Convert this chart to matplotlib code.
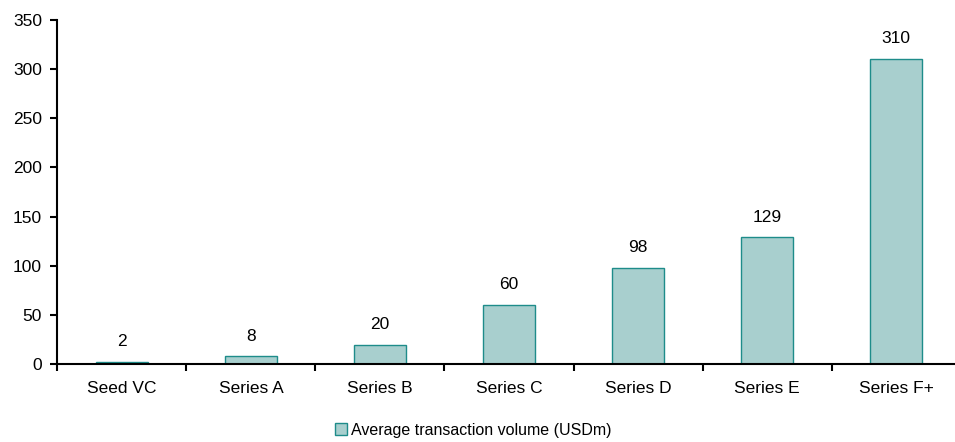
import matplotlib.pyplot as plt
from matplotlib.ticker import MultipleLocator

plt.rcParams['font.family'] = ['Liberation Sans', 'DejaVu Sans']

# Data
categories = ["Seed VC", "Series A", "Series B", "Series C", "Series D", "Series E", "Series F+"]
volumes = [2, 8, 20, 60, 98, 129, 310]
series_label = "Average transaction volume (USDm)"

fig = plt.figure(figsize=(9.55, 4.42), dpi=100)
ax = fig.add_axes([0.06, 0.176, 0.946, 0.779])

x = list(range(len(categories)))
bars = ax.bar(x, volumes, width=0.4, color='#a8cfce', edgecolor='#1e8c8a',
              linewidth=1, label=series_label)

for xi, v in zip(x, volumes):
    ax.text(xi, v + 13, str(v), ha='center', va='bottom', fontsize=12.5)

ax.set_xlim(-0.5, len(categories) - 0.5)
ax.set_ylim(0, 350)
ax.yaxis.set_major_locator(MultipleLocator(50))

ax.set_xticks(x)
ax.set_xticklabels(categories, fontsize=12.5)
ax.tick_params(axis='x', length=0, pad=12)
ax.set_xticks([i - 0.5 for i in range(len(categories) + 1)], minor=True)
ax.tick_params(axis='x', which='minor', length=5, width=1.5, direction='out')
ax.tick_params(axis='y', length=5, width=1.5, labelsize=12.5, pad=6)

for side in ['top', 'right']:
    ax.spines[side].set_visible(False)
for side in ['left', 'bottom']:
    ax.spines[side].set_linewidth(1.5)

fig.legend(loc='center', bbox_to_anchor=(0.496, 0.027), frameon=False,
           fontsize=11.5, handlelength=0.7, handleheight=0.7, handletextpad=0.3)

fig.savefig("out.png", dpi=100)
